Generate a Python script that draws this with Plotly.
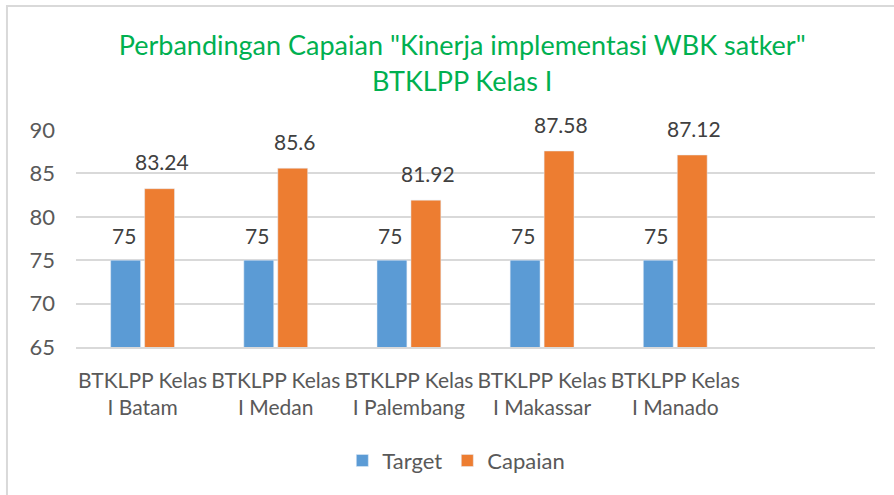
import plotly.graph_objects as go

categories = ["BTKLPP Kelas<br>I Batam", "BTKLPP Kelas<br>I Medan", "BTKLPP Kelas<br>I Palembang",
              "BTKLPP Kelas<br>I Makassar", "BTKLPP Kelas<br>I Manado"]
target = [75, 75, 75, 75, 75]
capaian = [83.24, 85.6, 81.92, 87.58, 87.12]
capaian_labels = ["83.24", "85.6", "81.92", "87.58", "87.12"]
y_ticks = [65, 70, 75, 80, 85, 90]

FONT = "Lato"
fig = go.Figure()
fig.add_trace(go.Bar(name="Target", x=categories, y=target, marker_color="#5B9BD5"))
fig.add_trace(go.Bar(name="Capaian", x=categories, y=capaian, marker_color="#ED7D31"))

annotations = []
for cat, v in zip(categories, target):
    annotations.append(dict(x=cat, y=v, xref="x", yref="y", text=str(v), showarrow=False,
                            xshift=-19, yshift=25, yanchor="middle",
                            font=dict(size=21, color="#404040", family=FONT)))
for cat, v, lab in zip(categories, capaian, capaian_labels):
    annotations.append(dict(x=cat, y=v, xref="x", yref="y", text=lab, showarrow=False,
                            xshift=19, yshift=27, yanchor="middle",
                            font=dict(size=21, color="#404040", family=FONT)))

fig.update_layout(
    width=894, height=495,
    margin=dict(l=76, r=19, t=130, b=148),
    paper_bgcolor="white", plot_bgcolor="white",
    barmode="group", bargap=0.49, bargroupgap=0.12,
    font=dict(family=FONT, color="#595959"),
    title=dict(text='Perbandingan Capaian "Kinerja implementasi WBK satker"<br>BTKLPP Kelas I',
               x=0.517, xanchor="center", y=0.888, yanchor="middle",
               font=dict(size=27, color="#00B050", family=FONT)),
    showlegend=True,
    legend=dict(orientation="h", x=0.476, xanchor="center", y=-0.524, yanchor="middle",
                font=dict(size=22, color="#595959", family=FONT), itemwidth=30),
    xaxis=dict(type="category", range=[-0.5, 5.5], showgrid=False, ticks="",
               showline=True, linecolor="#D9D9D9", linewidth=1.5, ticklabelstandoff=14,
               tickfont=dict(size=21, color="#595959", family=FONT)),
    yaxis=dict(range=[65, 90], tickvals=y_ticks, showgrid=True, gridcolor="#D9D9D9",
               gridwidth=1.5, zeroline=False, showline=False, ticks="", ticklabelstandoff=20,
               tickfont=dict(size=22, color="#595959", family=FONT)),
    annotations=annotations,
    shapes=[dict(type="rect", xref="paper", yref="paper", x0=-0.0864, x1=1.2, y0=-1.2, y1=1.572,
                 line=dict(color="#D9D9D9", width=2), fillcolor="rgba(0,0,0,0)", layer="below")],
)
fig.write_html("out.html", config={"displayModeBar": False},
               post_script="document.body.style.margin='0';")
